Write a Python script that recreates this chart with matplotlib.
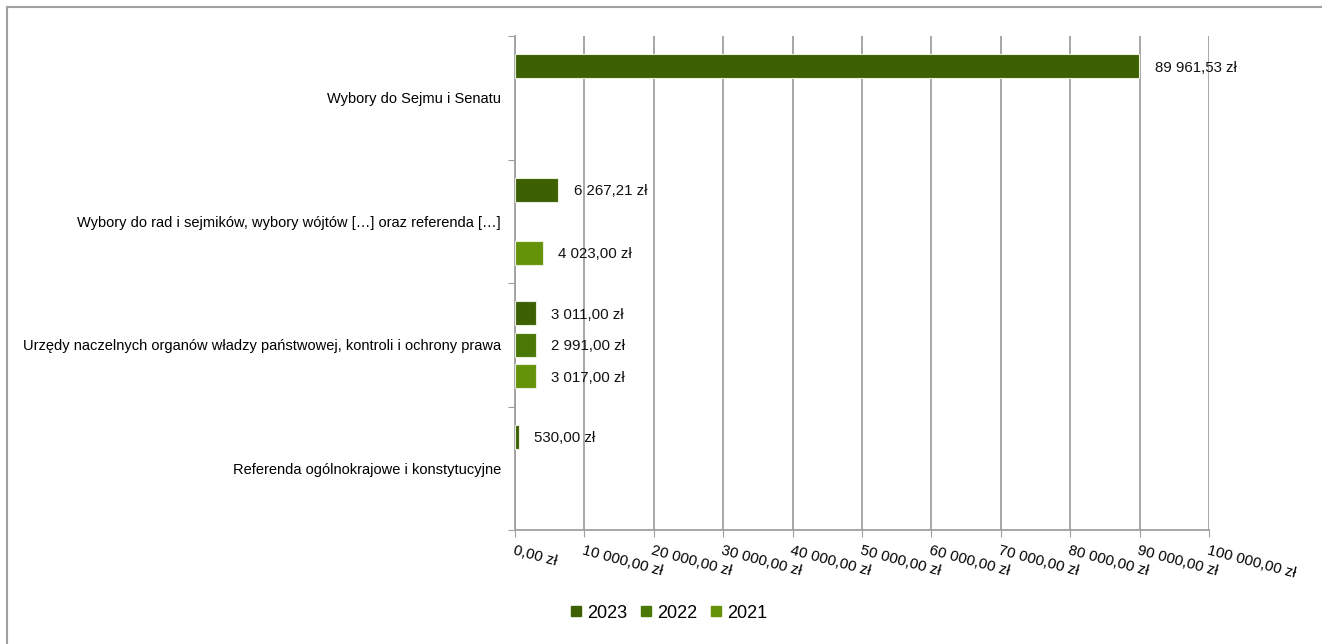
import numpy as np
import matplotlib.pyplot as plt
from matplotlib.lines import Line2D

plt.rcParams['font.family'] = ['Liberation Sans', 'DejaVu Sans']

# Data
categories = [
    "Wybory do Sejmu i Senatu",
    "Wybory do rad i sejmików, wybory wójtów […] oraz referenda […]",
    "Urzędy naczelnych organów władzy państwowej, kontroli i ochrony prawa",
    "Referenda ogólnokrajowe i konstytucyjne",
]
years = ["2023", "2022", "2021"]
values_2023 = [89961.53, 6267.21, 3011.00, 530.00]
values_2022 = [np.nan, np.nan, 2991.00, np.nan]
values_2021 = [np.nan, 4023.00, 3017.00, np.nan]
colors = ["#3d6102", "#4a7804", "#64930a"]
xticks = np.arange(0, 100001, 10000)


def fmt_pln(v):
    s = f"{v:,.2f}".replace(",", " ").replace(".", ",")
    return s + " zł"


fig = plt.figure(figsize=(13.22, 6.44), dpi=100)
ax = fig.add_axes([515 / 1322, 1 - 530 / 644, (1209 - 515) / 1322, (530 - 36) / 644])

y = np.arange(len(categories))
offsets = [-0.255, 0.0, 0.255]
series = [values_2023, values_2022, values_2021]
for vals, off, col in zip(series, offsets, colors):
    vals = np.array(vals, dtype=float)
    mask = ~np.isnan(vals)
    ax.barh(y[mask] + off, vals[mask], height=0.195, color=col,
            edgecolor="#e8eedc", linewidth=0.8, zorder=3)
    for yy, v in zip(y[mask] + off, vals[mask]):
        ax.annotate(fmt_pln(v), (v, yy), xytext=(11, -1), textcoords="offset points",
                    ha="left", va="center", fontsize=10.8, color="#111111", zorder=4)

ax.set_xlim(0, 100000)
ax.set_ylim(len(categories) - 0.5, -0.5)

# x axis
ax.set_xticks(xticks)
ax.set_xticklabels([fmt_pln(t) for t in xticks], rotation=-15, ha="left", va="top",
                   rotation_mode="anchor", fontsize=10.8)
ax.tick_params(axis="x", length=5, color="#a0a0a0", pad=5)
ax.grid(axis="x", color="#a0a0a0", linewidth=1.3, zorder=0)

# y axis: ticks at category boundaries, labels centered
ax.set_yticks(np.arange(-0.5, len(categories)), minor=False)
ax.set_yticklabels([])
ax.tick_params(axis="y", length=5, color="#a0a0a0")
ax.set_yticks(y, minor=True)
ax.set_yticklabels(categories, minor=True, fontsize=10.5)
ax.tick_params(axis="y", which="minor", length=0, pad=10)

for side in ["top", "right"]:
    ax.spines[side].set_visible(False)
for side in ["left", "bottom"]:
    ax.spines[side].set_color("#a0a0a0")
    ax.spines[side].set_linewidth(1.3)

# legend
handles = [Line2D([], [], marker="s", linestyle="none", markersize=6.5,
                  markerfacecolor=c, markeredgecolor=c) for c in colors]
fig.legend(handles, years, loc="center", bbox_to_anchor=(0.505, 1 - 613 / 644),
           ncol=3, frameon=False, fontsize=13, handletextpad=0.2,
           columnspacing=0.55, handlelength=0.9)

# chart frame (left and top edges visible)
fig.add_artist(Line2D([7 / 1322, 7 / 1322], [0, 1 - 7 / 644], transform=fig.transFigure,
                      color="#a0a0a0", linewidth=1.5))
fig.add_artist(Line2D([7 / 1322, 1], [1 - 7 / 644, 1 - 7 / 644], transform=fig.transFigure,
                      color="#a0a0a0", linewidth=1.5))

fig.savefig("out.png", dpi=100)
